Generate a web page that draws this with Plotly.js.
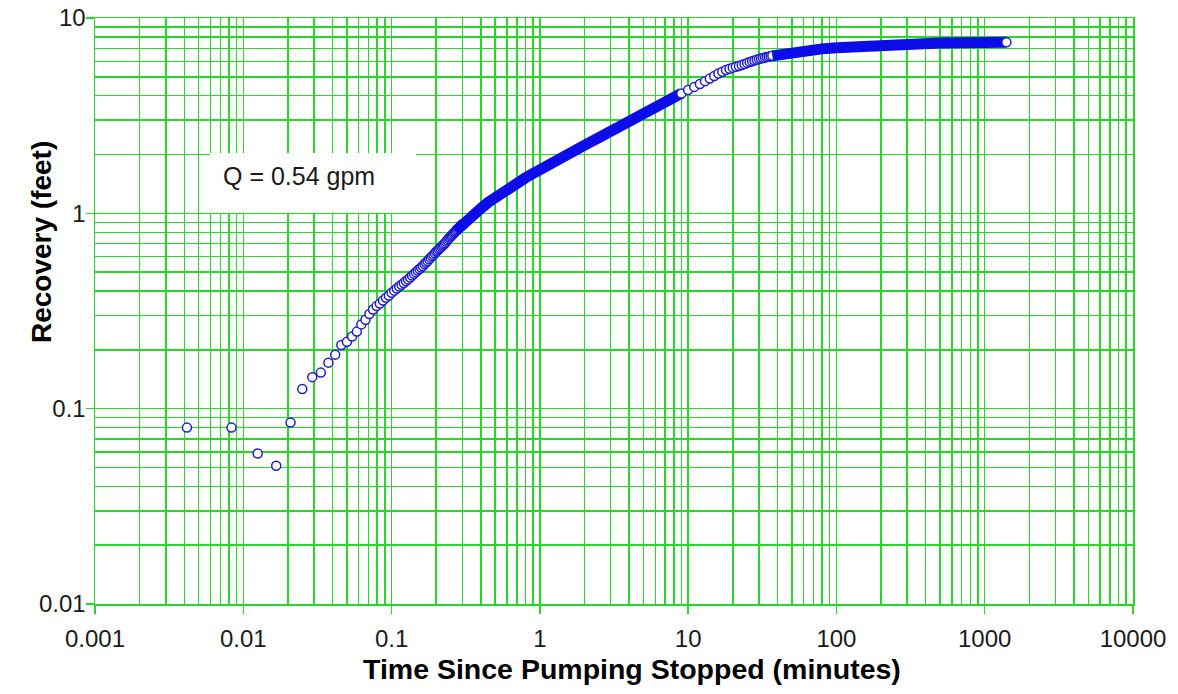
<!DOCTYPE html>
<html>
<head>
<meta charset="utf-8">
<script src="https://cdn.plot.ly/plotly-3.0.1.min.js"></script>
<style>
  html, body { margin: 0; padding: 0; background: #ffffff; }
  #chart { width: 1178px; height: 694px; }
</style>
</head>
<body>
<div id="chart"></div>
<script>
// ---- Data ----
// Early readings (0.25 s logging interval), minutes / feet
const earlyTime = [0.00417, 0.00833, 0.0125, 0.01667, 0.02083, 0.025, 0.02917, 0.03333, 0.0375, 0.04167,
  0.04583, 0.05, 0.05417, 0.05833, 0.0625, 0.06667, 0.07083, 0.075, 0.07917, 0.08333,
  0.0875, 0.09167, 0.09583, 0.1, 0.10417, 0.10833, 0.1125, 0.11667, 0.12083, 0.125,
  0.12917, 0.13333, 0.1375, 0.14167, 0.14583, 0.15, 0.15417, 0.15833, 0.1625, 0.16667,
  0.17083, 0.175, 0.17917, 0.18333, 0.1875, 0.19167, 0.19583, 0.2, 0.20417, 0.20833,
  0.2125, 0.21667, 0.22083, 0.225, 0.22917, 0.23333, 0.2375, 0.24167, 0.24583, 0.25,
  0.25417, 0.25833, 0.2625, 0.26667, 0.27083, 0.275, 0.27917, 0.28333, 0.2875, 0.29167,
  0.29583, 0.3];
const earlyRecovery = [0.080, 0.080, 0.059, 0.051, 0.085, 0.126, 0.145, 0.153, 0.172, 0.189,
  0.212, 0.220, 0.234, 0.248, 0.270, 0.285, 0.305, 0.322, 0.335, 0.345,
  0.358, 0.370, 0.380, 0.392, 0.402, 0.412, 0.422, 0.431, 0.440, 0.450,
  0.459, 0.469, 0.480, 0.490, 0.500, 0.510, 0.519, 0.528, 0.537, 0.550,
  0.560, 0.570, 0.582, 0.593, 0.603, 0.613, 0.625, 0.636, 0.645, 0.655,
  0.665, 0.675, 0.684, 0.692, 0.703, 0.715, 0.728, 0.740, 0.750, 0.760,
  0.770, 0.780, 0.790, 0.800, 0.810, 0.820, 0.830, 0.840, 0.850, 0.860,
  0.870, 0.880];

// Densely logged stretch (points overlap into a solid band)
const denseTime1 = [0.27, 0.3, 0.35, 0.4, 0.45, 0.5, 0.55, 0.6, 0.7, 0.8, 0.9, 1.0, 1.25, 1.5, 2.0, 2.5,
  3.0, 3.5, 4.0, 5.0, 6.0, 7.0, 8.0, 9.0];
const denseRecovery1 = [0.81, 0.88, 0.975, 1.06, 1.14, 1.21, 1.275, 1.33, 1.43, 1.52, 1.60, 1.68, 1.84, 1.98, 2.23, 2.44,
  2.63, 2.80, 2.95, 3.23, 3.48, 3.71, 3.92, 4.11];

// One-minute readings, 9 to 37 minutes
const midTime = [9, 10, 11, 12, 13, 14, 15, 16, 17, 18, 19, 20, 21, 22, 23, 24, 25, 26, 27, 28,
  29, 30, 31, 32, 33, 34, 35, 36, 37];
const midRecovery = [4.11, 4.28, 4.44, 4.59, 4.75, 4.90, 5.05, 5.20, 5.31, 5.42, 5.50, 5.57, 5.63, 5.68,
  5.75, 5.82, 5.89, 5.95, 6.01, 6.06, 6.11, 6.16, 6.20, 6.24, 6.27, 6.31, 6.34, 6.37, 6.40];

// Late stretch, dense band to the last reading
const denseTime2 = [37, 45, 60, 80, 100, 150, 230, 350, 500, 700, 1000, 1400];
const denseRecovery2 = [6.40, 6.58, 6.80, 6.95, 7.05, 7.20, 7.32, 7.40, 7.44, 7.47, 7.49, 7.51];

// Tick labels
const xTickVals = [0.001, 0.01, 0.1, 1, 10, 100, 1000, 10000];
const xTickText = ["0.001", "0.01", "0.1", "1", "10", "100", "1000", "10000"];
const yTickVals = [0.01, 0.1, 1, 10];
const yTickText = ["0.01", "0.1", "1", "10"];

const annotationText = "Q = 0.54 gpm";
const xTitle = "Time Since Pumping Stopped (minutes)";
const yTitle = "Recovery (feet)";

// ---- Styling ----
const GRID = "rgb(40,215,40)";
const BAND = "rgb(12,12,232)";
const RING = "rgb(30,30,205)";
const FONT = "Liberation Sans, Arial, sans-serif";

const markerStyle = {
  symbol: "circle",
  size: 9,
  color: "#ffffff",
  line: { color: RING, width: 1.5 }
};

const traces = [
  { x: earlyTime, y: earlyRecovery, type: "scatter", mode: "markers",
    marker: markerStyle, showlegend: false },
  { x: denseTime1, y: denseRecovery1, type: "scatter", mode: "lines",
    line: { color: BAND, width: 11, shape: "linear" }, showlegend: false },
  { x: midTime, y: midRecovery, type: "scatter", mode: "markers",
    marker: markerStyle, showlegend: false },
  { x: denseTime2, y: denseRecovery2, type: "scatter", mode: "lines",
    line: { color: BAND, width: 11, shape: "linear" }, showlegend: false },
  { x: [denseTime2[denseTime2.length - 1]], y: [denseRecovery2[denseRecovery2.length - 1]],
    type: "scatter", mode: "markers", marker: markerStyle, showlegend: false }
];

const axisCommon = {
  type: "log",
  showgrid: true,
  gridcolor: GRID,
  gridwidth: 1.5,
  showline: true,
  linecolor: GRID,
  linewidth: 1.5,
  mirror: true,
  zeroline: false,
  ticks: "outside",
  ticklen: 8,
  tickwidth: 1.5,
  tickcolor: GRID,
  tickfont: { family: FONT, size: 24, color: "#1a1a1a" },
  minor: { dtick: "D1", showgrid: true, gridcolor: GRID, gridwidth: 1.5, ticks: "" }
};

const layout = {
  width: 1178,
  height: 694,
  margin: { l: 95, r: 45, t: 18, b: 90 },
  paper_bgcolor: "#ffffff",
  plot_bgcolor: "#ffffff",
  showlegend: false,
  xaxis: Object.assign({}, axisCommon, {
    range: [-3, 4],
    tickmode: "array",
    tickvals: xTickVals,
    ticktext: xTickText,
    ticklabelstandoff: 5
  }),
  yaxis: Object.assign({}, axisCommon, {
    range: [-2, 1],
    tickmode: "array",
    tickvals: yTickVals,
    ticktext: yTickText,
    ticklabelstandoff: -5
  }),
  shapes: [
    { type: "rect", xref: "paper", yref: "paper", layer: "above",
      x0: 0.1108, x1: 0.3092, y0: 0.6672, y1: 0.7696,
      fillcolor: "#ffffff", line: { width: 0 } }
  ],
  annotations: [
    { text: annotationText, xref: "paper", yref: "paper", x: 0.1214, y: 0.7304,
      xanchor: "left", yanchor: "middle", showarrow: false,
      font: { family: FONT, size: 25, color: "#1a1a1a" } },
    { text: "<b>" + xTitle + "</b>", xref: "paper", yref: "paper", x: 0.5173, y: -0.1109,
      xanchor: "center", yanchor: "middle", showarrow: false,
      font: { family: FONT, size: 28.5, color: "#000000" } },
    { text: "<b>" + yTitle + "</b>", xref: "paper", yref: "paper", x: -0.0520, y: 0.6177,
      xanchor: "center", yanchor: "middle", textangle: -90, showarrow: false,
      font: { family: FONT, size: 28, color: "#000000" } }
  ]
};

Plotly.newPlot("chart", traces, layout, { displayModeBar: false, staticPlot: true });
</script>
</body>
</html>
